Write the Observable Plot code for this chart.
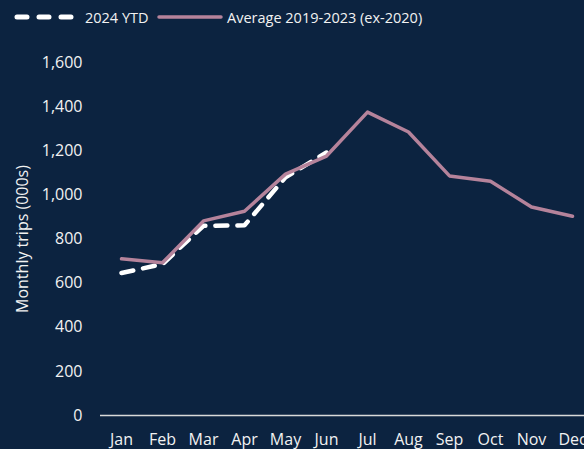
<!DOCTYPE html>
<html>
<head>
<meta charset="utf-8">
<script src="https://cdn.jsdelivr.net/npm/d3@7"></script>
<script src="https://cdn.jsdelivr.net/npm/@observablehq/plot@0.6"></script>
<style>
  html, body { margin: 0; padding: 0; background: #0c2340; overflow: hidden; width: 584px; height: 449px; }
  #legend { height: 34px; position: relative; font-family: "Open Sans", sans-serif; font-size: 14.5px; color: #f2f2f2; }
  #legend .item { position: absolute; top: 0; height: 34px; display: flex; align-items: center; }
  #legend svg { display: block; }
</style>
</head>
<body>
<div id="legend">
  <div class="item" style="left:12px">
    <svg width="64" height="10"><line x1="5" y1="5" x2="60" y2="5" stroke="#ffffff" stroke-width="5" stroke-linecap="round" stroke-dasharray="10,12"/></svg>
    <span style="margin-left:9px">2024 YTD</span>
  </div>
  <div class="item" style="left:157px">
    <svg width="66" height="10"><line x1="2" y1="5" x2="64" y2="5" stroke="#b5839b" stroke-width="3.5" stroke-linecap="round"/></svg>
    <span style="margin-left:4px">Average 2019-2023 (ex-2020)</span>
  </div>
</div>
<div id="chart"></div>
<script>
const months = ["Jan","Feb","Mar","Apr","May","Jun","Jul","Aug","Sep","Oct","Nov","Dec"];
const average = [710, 692, 882, 926, 1094, 1176, 1375, 1285, 1086, 1062, 945, 903];
const ytd2024 = [646, 686, 860, 862, 1080, 1192];
const yTicks = [0, 200, 400, 600, 800, 1000, 1200, 1400, 1600];

const chart = Plot.plot({
  width: 592,
  height: 415,
  marginLeft: 100,
  marginRight: 0,
  marginTop: 28,
  marginBottom: 34,
  style: {
    background: "transparent",
    color: "#f2f2f2",
    fontFamily: "'Open Sans', sans-serif",
    fontSize: "16px",
    maxWidth: "none",
    overflow: "visible"
  },
  x: { type: "point", domain: months, padding: 0.5 },
  y: { domain: [0, 1600] },
  marks: [
    Plot.axisY({
      ticks: yTicks,
      tickFormat: d3.format(","),
      tickSize: 0,
      tickPadding: 18,
      label: "Monthly trips (000s)",
      labelAnchor: "center",
      labelOffset: 84,
      labelArrow: false
    }),
    Plot.axisX({ tickSize: 0, tickPadding: 18, label: null }),
    Plot.ruleY([0], { stroke: "#d9d9d9", strokeWidth: 1.5 }),
    Plot.lineY(ytd2024, {
      x: (d, i) => months[i],
      y: d => d,
      stroke: "#ffffff",
      strokeWidth: 4.5,
      strokeDasharray: "12,10",
      strokeLinecap: "round"
    }),
    Plot.lineY(average, {
      x: (d, i) => months[i],
      y: d => d,
      stroke: "#b5839b",
      strokeWidth: 3.5
    })
  ]
});
document.getElementById("chart").appendChild(chart);
</script>
</body>
</html>
